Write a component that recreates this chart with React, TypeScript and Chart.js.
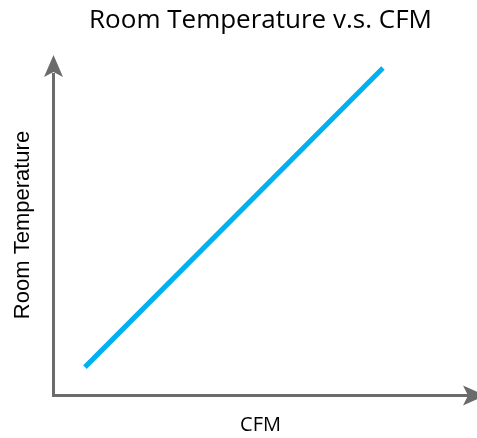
import React, { useEffect, useRef } from "react";
import { Chart, registerables } from "chart.js";

Chart.register(...registerables);

const TITLE = "Room Temperature v.s. CFM";
const X_LABEL = "CFM";
const Y_LABEL = "Room Temperature";
const CFM_VALUES = [0.77, 7.95];
const TEMP_VALUES = [0.82, 9.62];

const AXIS_COLOR = "#6b6b6b";
const LINE_COLOR = "#00b0f0";

const align = (p: number, w: number) => Math.round(p - w / 2) + w / 2;

const arrowPlugin = {
  id: "axisArrows",
  afterDraw(chart: any) {
    const { ctx, chartArea } = chart;
    const { left, top, right, bottom } = chartArea;
    ctx.save();
    const yAx = align(left, 3);
    const xAy = align(bottom, 3);
    // y axis line (ends at the arrowhead notch)
    ctx.strokeStyle = AXIS_COLOR;
    ctx.lineWidth = 3;
    ctx.beginPath();
    ctx.moveTo(yAx, xAy + 1.5);
    ctx.lineTo(yAx, top + 18);
    ctx.stroke();
    ctx.fillStyle = AXIS_COLOR;
    ctx.beginPath();
    ctx.moveTo(yAx, top);
    ctx.lineTo(yAx + 9.5, top + 22);
    ctx.lineTo(yAx, top + 17);
    ctx.lineTo(yAx - 9.5, top + 22);
    ctx.closePath();
    ctx.fill();
    ctx.beginPath();
    ctx.moveTo(right + 17, xAy);
    ctx.lineTo(right - 5, xAy - 10);
    ctx.lineTo(right, xAy);
    ctx.lineTo(right - 5, xAy + 10);
    ctx.closePath();
    ctx.fill();
    ctx.restore();
  },
};

export default function App() {
  const ref = useRef<HTMLCanvasElement>(null);
  useEffect(() => {
    if (!ref.current) return;
    const chart = new Chart(ref.current, {
      type: "line",
      data: {
        datasets: [
          {
            data: CFM_VALUES.map((x, i) => ({ x, y: TEMP_VALUES[i] })),
            borderColor: LINE_COLOR,
            borderWidth: 5,
            pointRadius: 0,
            fill: false,
            clip: false as any,
          },
        ],
      },
      options: {
        animation: false,
        responsive: false,
        layout: { padding: { left: 0, right: 9, top: 0, bottom: 0 } },
        plugins: {
          legend: { display: false },
          tooltip: { enabled: false },
          title: {
            display: true,
            text: TITLE,
            fullSize: false,
            color: "#000000",
            font: { family: "'Open Sans'", size: 26, weight: "normal" },
            padding: { top: 4.5, bottom: 19.3 },
          },
        },
        scales: {
          x: {
            type: "linear",
            min: 0,
            max: 10,
            ticks: { display: false },
            grid: { display: false, drawTicks: false },
            border: { display: true, color: AXIS_COLOR, width: 3 },
            title: {
              display: true,
              text: X_LABEL,
              color: "#000000",
              font: { family: "'Open Sans'", size: 20 },
              padding: { top: 18, bottom: 1 },
            },
          },
          y: {
            type: "linear",
            min: 0,
            max: 10,
            ticks: { display: false },
            grid: { display: false, drawTicks: false },
            border: { display: false },
            title: {
              display: true,
              text: Y_LABEL,
              color: "#000000",
              font: { family: "'Liberation Sans'", size: 22 },
              padding: { top: 9.8, bottom: 16.8 },
            },
          },
        },
      },
      plugins: [arrowPlugin],
    });
    return () => chart.destroy();
  }, []);
  return (
    <div style={{ position: "absolute", left: 0, top: 0, width: 477, height: 438, background: "#fff" }}>
      <canvas ref={ref} width={477} height={438} style={{ display: "block" }} />
    </div>
  );
}
